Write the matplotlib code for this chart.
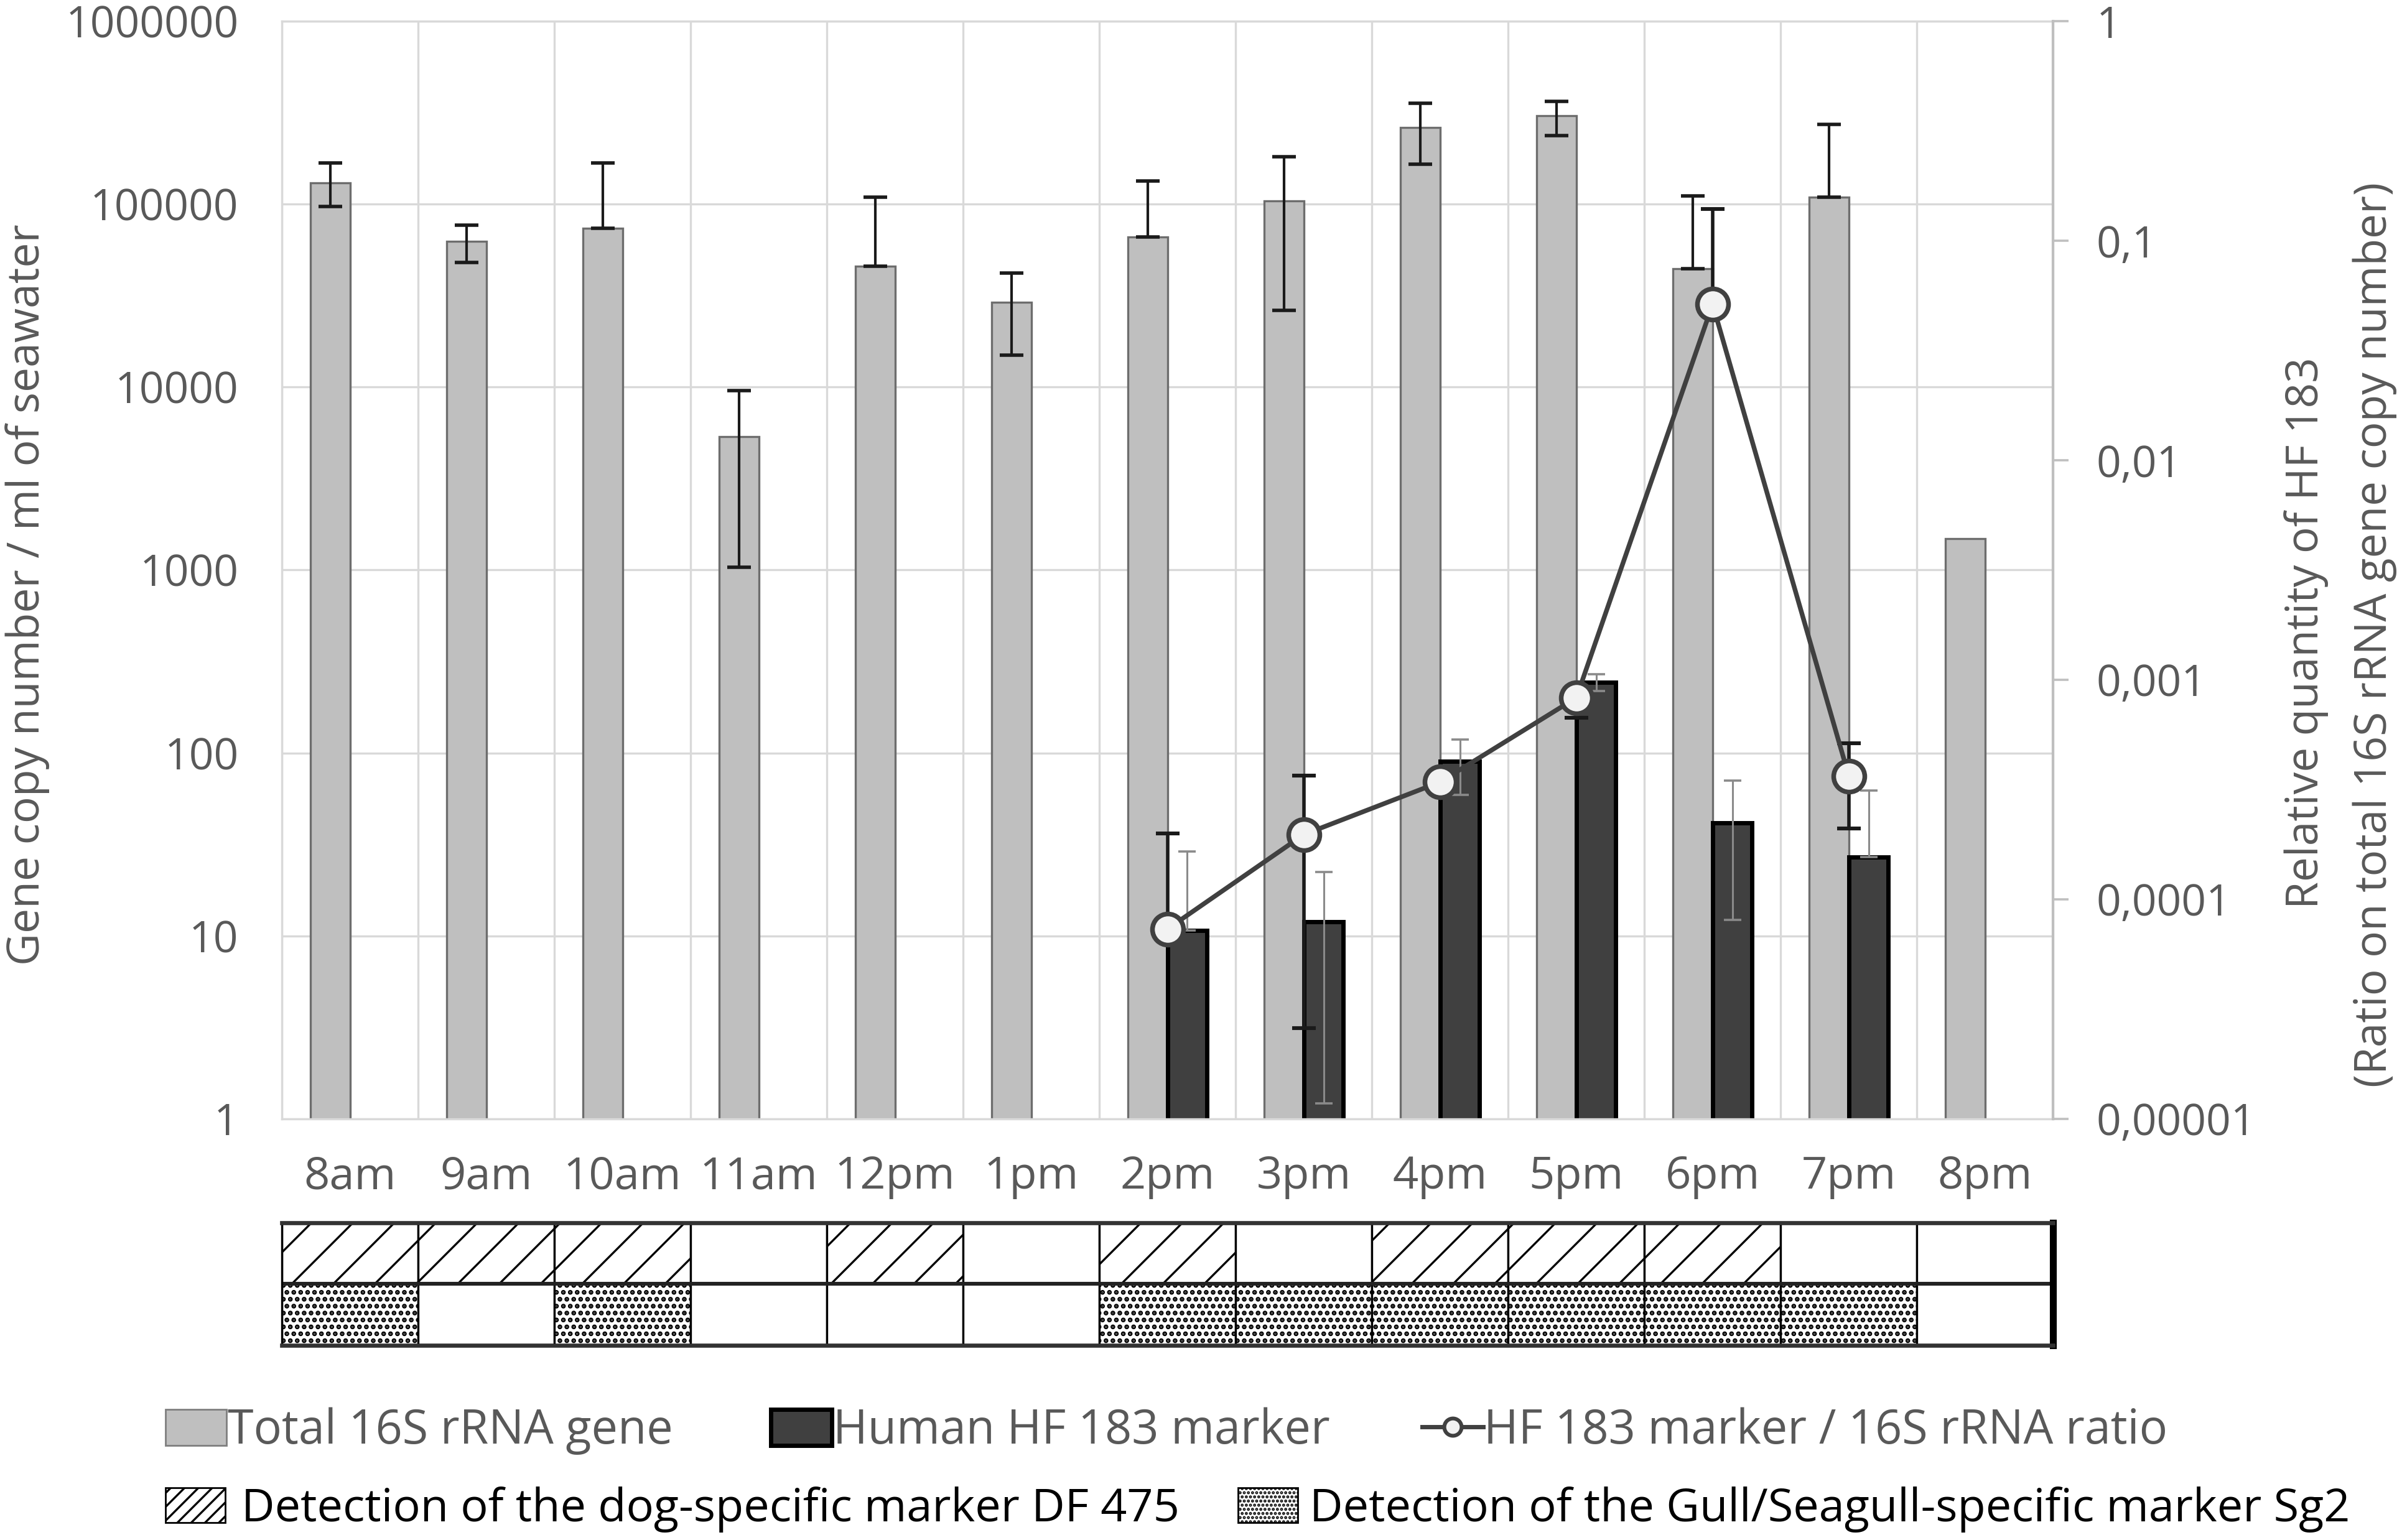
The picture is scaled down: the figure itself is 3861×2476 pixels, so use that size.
import numpy as np
import matplotlib
matplotlib.use("Agg")
import matplotlib.pyplot as plt
from matplotlib.patches import Patch
from matplotlib.lines import Line2D
from matplotlib.ticker import FixedLocator, FixedFormatter, NullLocator

plt.rcParams['font.family'] = ['Open Sans', 'DejaVu Sans']
plt.rcParams['hatch.linewidth'] = 1.2

nan = np.nan

# ---- data ----
hours = ['8am', '9am', '10am', '11am', '12pm', '1pm', '2pm', '3pm',
         '4pm', '5pm', '6pm', '7pm', '8pm']

# total 16S rRNA gene copies / ml (grey bars) + error bar ends
total_16s = [131000, 62600, 73900, 5350, 46000, 29200, 66000, 104000,
             262000, 306000, 44300, 109000, 1490]
total_hi = [168000, 77000, 168000, 9600, 109000, 42000, 134000, 182000,
            357000, 364000, 111000, 274000, nan]
total_lo = [97000, 48000, 73900, 1035, 46000, 15000, 66000, 26400,
            166000, 238000, 44300, 109000, nan]

# human HF 183 marker copies / ml (dark bars)
hf183 = [nan, nan, nan, nan, nan, nan, 10.7, 11.9, 90, 244, 41.5, 27, nan]
hf183_hi = [nan, nan, nan, nan, nan, nan, 29, 22.4, 118, 270, 70.4, 62.5, nan]
hf183_lo = [nan, nan, nan, nan, nan, nan, 10.7, 1.21, 59, 218, 12.2, 27, nan]

# ratio HF183 / 16S (line, right axis)
ratio = [nan, nan, nan, nan, nan, nan, 7.32e-5, 1.97e-4, 3.42e-4, 8.28e-4,
         0.0514, 3.63e-4, nan]
ratio_hi = [nan, nan, nan, nan, nan, nan, 2.0e-4, 3.66e-4, 3.42e-4, 8.28e-4,
            0.14, 5.14e-4, nan]
ratio_lo = [nan, nan, nan, nan, nan, nan, 7.32e-5, 2.58e-5, 3.42e-4, 6.7e-4,
            0.0514, 2.1e-4, nan]

# detection table (1 = detected)
dog_df475 = [1, 1, 1, 0, 1, 0, 1, 0, 1, 1, 1, 0, 0]
gull_sg2 = [1, 0, 1, 0, 0, 0, 1, 1, 1, 1, 1, 1, 0]

left_ticks = [1, 10, 100, 1000, 10000, 100000, 1000000]
left_labels = ['1', '10', '100', '1000', '10000', '100000', '1000000']
right_ticks = [1e-5, 1e-4, 1e-3, 1e-2, 1e-1, 1]
right_labels = ['0,00001', '0,0001', '0,001', '0,01', '0,1', '1']

txt = '#595959'
grid = '#d9d9d9'
fs = 25

fig = plt.figure(figsize=(19.31, 12.38), dpi=200)
ax = fig.add_axes([0.1173, 0.2736, 0.7373, 0.7125])
x = np.arange(len(hours))
w = 0.29

ax.set_yscale('log')
ax.bar(x - w / 2, total_16s, width=w, color='#bfbfbf', edgecolor='#6d6d6d',
       linewidth=1.2, zorder=2)
ax.bar(x + w / 2, hf183, width=w, color='#404040', edgecolor='black',
       linewidth=2.5, zorder=2)

t = np.array(total_16s)
ax.errorbar(x - w / 2, t, yerr=[t - np.array(total_lo), np.array(total_hi) - t],
            fmt='none', ecolor='#1a1a1a', elinewidth=1.5, capsize=7,
            capthick=2, zorder=3)
h = np.array(hf183)
ax.errorbar(x + w / 2, h, yerr=[h - np.array(hf183_lo), np.array(hf183_hi) - h],
            fmt='none', ecolor='#8a8a8a', elinewidth=1.1, capsize=5,
            capthick=1.3, zorder=3)

ax.set_xlim(-0.5, len(hours) - 0.5)
ax.set_ylim(1, 1e6)
ax.yaxis.set_major_locator(FixedLocator(left_ticks))
ax.yaxis.set_major_formatter(FixedFormatter(left_labels))
ax.yaxis.set_minor_locator(NullLocator())
ax.set_xticks(x)
ax.set_xticklabels(hours)
ax.set_xticks(np.arange(-0.5, len(hours), 1.0), minor=True)
ax.tick_params(axis='x', which='both', length=0, pad=21, labelsize=26,
               labelcolor=txt)
ax.tick_params(axis='y', which='both', length=0, pad=25, labelsize=fs,
               labelcolor=txt)
ax.yaxis.grid(True, which='major', color=grid, linewidth=1.2)
ax.xaxis.grid(True, which='minor', color=grid, linewidth=1.2)
ax.set_axisbelow(True)
for s in ax.spines.values():
    s.set_color(grid)
    s.set_linewidth(1.2)

# ratio on right axis
ax2 = ax.twinx()
ax2.set_yscale('log')
ax2.set_ylim(1e-5, 1)
r = np.array(ratio)
ax2.errorbar(x, r, yerr=[r - np.array(ratio_lo), np.array(ratio_hi) - r],
             fmt='none', ecolor='#1a1a1a', elinewidth=2, capsize=7,
             capthick=2.2, zorder=3)
ax2.plot(x, r, color='#404040', linewidth=2.7, marker='o', markersize=18,
         markerfacecolor='#f2f2f2', markeredgecolor='#404040',
         markeredgewidth=2.7, zorder=4)
ax2.yaxis.set_major_locator(FixedLocator(right_ticks))
ax2.yaxis.set_major_formatter(FixedFormatter(right_labels))
ax2.yaxis.set_minor_locator(NullLocator())
ax2.tick_params(axis='y', length=9, width=1.3, color='#bfbfbf', pad=16,
                labelsize=fs, labelcolor=txt)
for k in ['left', 'top', 'bottom']:
    ax2.spines[k].set_visible(False)
ax2.spines['right'].set_color('#bfbfbf')
ax2.spines['right'].set_linewidth(1.5)

# axis titles
fig.text(18 / 1568, 1 - 388 / 1005, 'Gene copy number / ml of seawater',
         rotation=90, ha='center', va='center', fontsize=25.7, color=txt)
fig.text(1505 / 1568, 1 - 413 / 1005, 'Relative quantity of HF 183',
         rotation=90, ha='center', va='center', fontsize=25.6, color=txt)
fig.text(1550 / 1568, 1 - 414 / 1005, '(Ratio on total 16S rRNA gene copy number)',
         rotation=90, ha='center', va='center', fontsize=25.6, color=txt)

# detection table
axt = fig.add_axes([0.1173, 0.1264, 0.7373, 0.0796])
axt.set_xlim(-0.5, len(hours) - 0.5)
axt.set_ylim(0, 2)
top = axt.bar(x, 1, bottom=1, width=1, facecolor='white', edgecolor='black',
              linewidth=1.2)
with plt.rc_context({'hatch.linewidth': 1.9}):
    bot = axt.bar(x, 1, bottom=0, width=1, facecolor='white', edgecolor='black',
                  linewidth=1.2)
for p, d in zip(top, dog_df475):
    if d:
        p.set_hatch('/')
for p, d in zip(bot, gull_sg2):
    if d:
        p.set_hatch('...')
axt.axhline(1, color='#222222', linewidth=2.2)
axt.set_xticks([])
axt.set_yticks([])
axt.spines['top'].set_color('#333333')
axt.spines['top'].set_linewidth(2.4)
axt.spines['bottom'].set_color('#333333')
axt.spines['bottom'].set_linewidth(2.4)
axt.spines['left'].set_color('black')
axt.spines['left'].set_linewidth(1.2)
axt.spines['right'].set_color('black')
axt.spines['right'].set_linewidth(4)

# legends
items = [
    (Patch(facecolor='#bfbfbf', edgecolor='#7f7f7f'), 'Total 16S rRNA gene', 108, 934, txt, 0.02, 27.2),
    (Patch(facecolor='#404040', edgecolor='black', linewidth=2.5), 'Human HF 183 marker', 503, 934, txt, 0.02, 27.2),
    (Line2D([], [], color='#404040', linewidth=2.5, marker='o', markersize=10,
            markerfacecolor='#f2f2f2', markeredgewidth=2.2), 'HF 183 marker / 16S rRNA ratio', 928, 934, txt, 0.02, 27.2),
    (Patch(facecolor='white', edgecolor='black', hatch='///'), 'Detection of the dog-specific marker DF 475', 108, 985, 'black', 0.35, 26.6),
    (Patch(facecolor='white', edgecolor='black', hatch='.....'), 'Detection of the Gull/Seagull-specific marker Sg2', 808, 985, 'black', 0.25, 26.6),
]
for hnd, lab, px, py, col, tp, lfs in items:
    lg = fig.legend(handles=[hnd], labels=[lab], loc='center left',
                    bbox_to_anchor=(px / 1568, 1 - py / 1005), frameon=False,
                    borderpad=0, borderaxespad=0, handlelength=1.3,
                    handleheight=0.8, handletextpad=tp, fontsize=lfs)
    for tx in lg.get_texts():
        tx.set_color(col)

fig.savefig('out.png', dpi=200)
